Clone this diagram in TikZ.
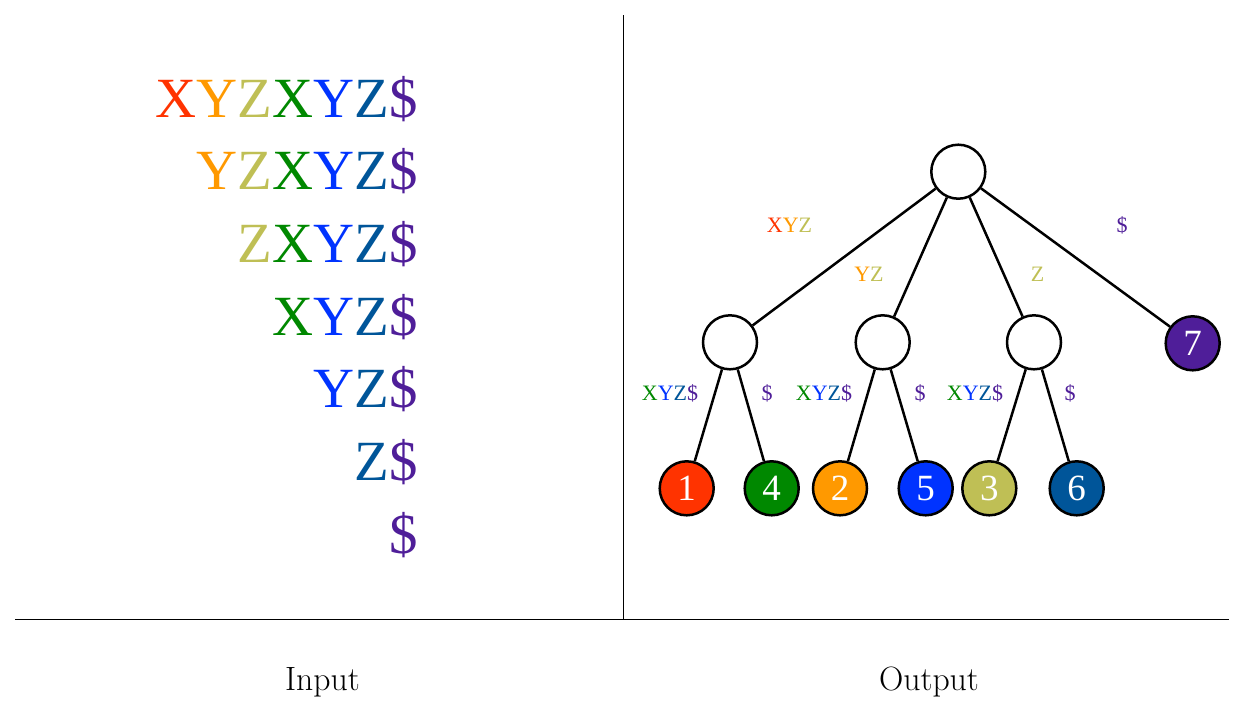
\documentclass[tikz,border=0pt]{standalone}
\usepackage{fontspec}
\usetikzlibrary{positioning}
\newfontfamily\tnr{Liberation Serif}

\definecolor{cone}{HTML}{FF3300}
\definecolor{ctwo}{HTML}{FF9900}
\definecolor{cthree}{HTML}{BFBF55}
\definecolor{cfour}{HTML}{008800}
\definecolor{cfive}{HTML}{0033FF}
\definecolor{csix}{HTML}{005599}
\definecolor{cseven}{HTML}{4F1E99}

\newcommand{\chA}{\textcolor{cone}{X}}
\newcommand{\chB}{\textcolor{ctwo}{Y}}
\newcommand{\chC}{\textcolor{cthree}{Z}}
\newcommand{\chD}{\textcolor{cfour}{X}}
\newcommand{\chE}{\textcolor{cfive}{Y}}
\newcommand{\chF}{\textcolor{csix}{Z}}
\newcommand{\chG}{\textcolor{cseven}{\$}}

\tikzset{
	vert/.style={circle,draw,line width=1.25pt,minimum size=27pt,inner sep=0pt,fill=white},
	leaf/.style={vert,fill=#1,text=white,font=\tnr\fontsize{18.5}{20}\selectfont},
	elabel/.style={anchor=base,inner sep=0pt,font=\tnr\fontsize{11}{12}\selectfont},
	suffix/.style={anchor=base east,inner sep=0pt,font=\tnr\fontsize{28.4}{30}\selectfont},
	tedge/.style={line width=1.25pt},
	caption/.style={anchor=base,inner sep=0pt,font=\fontsize{16.85}{20}\selectfont}
}

\begin{document}
\begin{tikzpicture}[x=0.5pt,y=-0.5pt]
	\useasboundingbox (0,0) rectangle (1244,708);
	% frame
	\coordinate (top) at (623.3,15);
	\coordinate (mid) at (623.3,619.3);
	\coordinate (lft) at (15,619.3);
	\coordinate (rgt) at (1229.3,619.3);
	\draw[line width=0.7pt] (top)--(mid);
	\draw[line width=0.7pt] (lft)--(rgt);
	\node (in)[caption] at (322.5,690) {Input};
	\node (out)[caption] at (929,690.5) {Output};
	% suffixes
	\node (s1)[suffix] at (418,117) {\chA\chB\chC\chD\chE\chF\chG};
	\node (s2)[suffix] at (418,189.7) {\chB\chC\chD\chE\chF\chG};
	\node (s3)[suffix] at (418,262.4) {\chC\chD\chE\chF\chG};
	\node (s4)[suffix] at (418,335.1) {\chD\chE\chF\chG};
	\node (s5)[suffix] at (418,407.8) {\chE\chF\chG};
	\node (s6)[suffix] at (418,480.5) {\chF\chG};
	\node (s7)[suffix] at (418,553.2) {\chG};
	% tree
	\node (r)[vert] at (958.3,171.7) {};
	\node (a)[vert] at (730,342.3) {};
	\node (b)[vert] at (882.7,342.3) {};
	\node (c)[vert] at (1034,342.3) {};
	\node (l7)[leaf=cseven] at (1192.7,343.3) {7};
	\node (l1)[leaf=cone] at (686.7,488.3) {1};
	\node (l4)[leaf=cfour] at (771.7,488.3) {4};
	\node (l2)[leaf=ctwo] at (840,488.3) {2};
	\node (l5)[leaf=cfive] at (925.7,488.3) {5};
	\node (l3)[leaf=cthree] at (989.3,488.3) {3};
	\node (l6)[leaf=csix] at (1076.7,488.3) {6};
	\draw[tedge] (r)--(a);
	\draw[tedge] (r)--(b);
	\draw[tedge] (r)--(c);
	\draw[tedge] (r)--(l7);
	\draw[tedge] (a)--(l1);
	\draw[tedge] (a)--(l4);
	\draw[tedge] (b)--(l2);
	\draw[tedge] (b)--(l5);
	\draw[tedge] (c)--(l3);
	\draw[tedge] (c)--(l6);
	% edge labels
	\node (ra)[elabel] at (789.5,232.7) {\chA\chB\chC};
	\node (rb)[elabel] at (869,281.7) {\chB\chC};
	\node (rc)[elabel] at (1037.5,281.7) {\chC};
	\node (rd)[elabel] at (1122,232.7) {\chG};
	\node (a1)[elabel] at (670,400) {\chD\chE\chF\chG};
	\node (a4)[elabel] at (767,400) {\chG};
	\node (b2)[elabel] at (824,400) {\chD\chE\chF\chG};
	\node (b5)[elabel] at (920,400) {\chG};
	\node (c3)[elabel] at (975,400) {\chD\chE\chF\chG};
	\node (c6)[elabel] at (1070,400) {\chG};
\end{tikzpicture}
\end{document}
